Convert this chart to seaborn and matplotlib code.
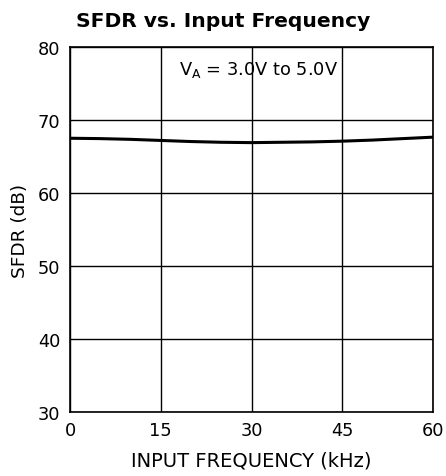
import numpy as np
import pandas as pd
import matplotlib
matplotlib.use("Agg")
import matplotlib.pyplot as plt
import seaborn as sns

# Data
freq_khz = [0, 5, 10, 15, 20, 25, 30, 35, 40, 45, 50, 55, 60]
sfdr_db = [67.5, 67.45, 67.35, 67.2, 67.05, 66.95, 66.9, 66.95, 67.0, 67.1, 67.25, 67.45, 67.65]
x_ticks = [0, 15, 30, 45, 60]
y_ticks = [30, 40, 50, 60, 70, 80]

df = pd.DataFrame({"freq": freq_khz, "sfdr": sfdr_db})

sns.set_style("white")
plt.rcParams['font.family'] = ['DejaVu Sans']
plt.rcParams['text.color'] = 'black'
plt.rcParams['axes.labelcolor'] = 'black'

fig = plt.figure(figsize=(4.46, 4.77), dpi=100)
ax = fig.add_axes([70 / 446, 1 - 413 / 477, 363 / 446, 365 / 477])

sns.lineplot(data=df, x="freq", y="sfdr", color="black", linewidth=2.2, ax=ax)

ax.set_xlim(0, 60)
ax.set_ylim(30, 80)
ax.set_xticks(x_ticks)
ax.set_yticks(y_ticks)
ax.grid(True, color="black", linewidth=1.0)
for s in ax.spines.values():
    s.set_color("black")
    s.set_linewidth(1.2)
ax.tick_params(axis="both", length=0, labelsize=12.8, colors="black")
ax.tick_params(axis="y", pad=7)
ax.tick_params(axis="x", pad=6.5)

ax.set_xlabel("INPUT FREQUENCY (kHz)", fontsize=14, labelpad=8)
ax.set_ylabel("SFDR (dB)", fontsize=13.3, labelpad=6)

# title is centred on the figure, not the axes
fig.text(0.5, 1 - 27 / 477, "SFDR vs. Input Frequency", fontsize=14.6,
         fontweight="bold", ha="center", va="baseline")

ax.text(31.2, 77, r"V$_\mathregular{A}$ = 3.0V to 5.0V", fontsize=12.8,
        ha="center", va="center")

fig.savefig("out.png", dpi=100)
